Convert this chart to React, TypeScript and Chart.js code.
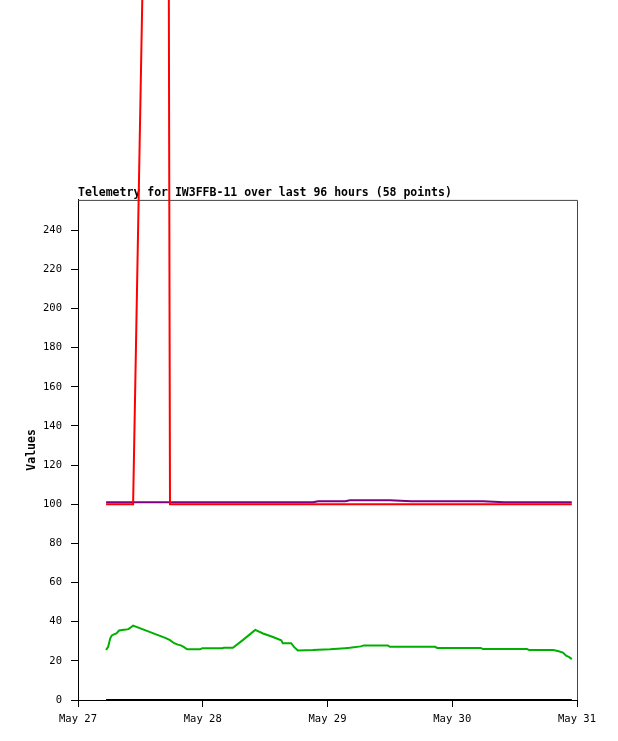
import React, { useEffect, useRef } from 'react';
import { Chart, registerables } from 'chart.js';

Chart.register(...registerables);

// hours since May 27 00:00
const hours = [
  5.4, 5.8, 6.2, 6.5, 6.9, 7.4, 7.9, 8.5, 9.2, 9.7, 10.2, 10.6, 16.9, 17.7, 18.5, 19.2,
  19.8, 20.4, 21.0, 23.5, 23.9, 27.7, 28.1, 29.8, 31.7, 34.1, 35.6, 37.5, 39.1, 39.4,
  41.0, 41.6, 42.3, 45.2, 46.2, 48.5, 51.4, 52.3, 54.4, 55.0, 59.6, 60.0, 64.1, 68.7,
  69.1, 73.5, 77.5, 77.9, 82.0, 86.4, 86.8, 88.9, 91.4, 92.3, 93.3, 93.9, 94.5, 95.0,
];

const redValues = [
  100, 100, 100, 100, 100, 100, 100, 100, 100, 100, 100, 100, 1020, 100, 100, 100,
  100, 100, 100, 100, 100, 100, 100, 100, 100, 100, 100, 100, 100, 100,
  100, 100, 100, 100, 100, 100, 100, 100, 100, 100, 100, 100, 100, 100,
  100, 100, 100, 100, 100, 100, 100, 100, 100, 100, 100, 100, 100, 100,
];

const purpleValues = [
  101, 101, 101, 101, 101, 101, 101, 101, 101, 101, 101, 101, 101, 101, 101, 101,
  101, 101, 101, 101, 101, 101, 101, 101, 101, 101, 101, 101, 101, 101,
  101, 101, 101, 101, 101.5, 101.5, 101.5, 102, 102, 102, 102, 102, 101.5, 101.5,
  101.5, 101.5, 101.5, 101.5, 101, 101, 101, 101, 101, 101, 101, 101, 101, 101,
];

const greenValues = [
  25.5, 27.2, 31.5, 33.0, 33.5, 34.0, 35.5, 35.8, 36.0, 36.2, 37.2, 38.0, 31.6, 30.6, 29.0, 28.3,
  27.9, 27.0, 25.9, 25.9, 26.5, 26.5, 26.7, 26.7, 30.6, 35.8, 34.0, 32.2, 30.5, 29.0,
  29.0, 27.0, 25.3, 25.5, 25.7, 25.9, 26.5, 26.7, 27.4, 27.9, 27.9, 27.2, 27.2, 27.2,
  26.6, 26.6, 26.6, 26.0, 26.0, 26.0, 25.5, 25.5, 25.5, 25.0, 24.2, 22.6, 21.9, 20.9,
];

const blackValues = [
  0, 0, 0, 0, 0, 0, 0, 0, 0, 0, 0, 0, 0, 0, 0, 0,
  0, 0, 0, 0, 0, 0, 0, 0, 0, 0, 0, 0, 0, 0,
  0, 0, 0, 0, 0, 0, 0, 0, 0, 0, 0, 0, 0, 0,
  0, 0, 0, 0, 0, 0, 0, 0, 0, 0, 0, 0, 0, 0,
];

const dayLabels = ['May 27', 'May 28', 'May 29', 'May 30', 'May 31'];
const yTickStep = 20;

const MONO = '"DejaVu Sans Mono", monospace';

const toPoints = (vals: number[]) => hours.map((h, i) => ({ x: h, y: vals[i] }));

// gray top/right frame of the plot area
const framePlugin = {
  id: 'frame',
  beforeDatasetsDraw(chart: any) {
    const { ctx, chartArea } = chart;
    ctx.save();
    ctx.strokeStyle = '#444';
    ctx.lineWidth = 1;
    ctx.beginPath();
    ctx.moveTo(chartArea.left, chartArea.top + 0.5);
    ctx.lineTo(chartArea.right + 0.5, chartArea.top + 0.5);
    ctx.lineTo(chartArea.right + 0.5, chartArea.bottom);
    ctx.stroke();
    ctx.restore();
  },
};

const App: React.FC = () => {
  const canvasRef = useRef<HTMLCanvasElement>(null);

  useEffect(() => {
    if (!canvasRef.current) return;
    const line = (label: string, vals: number[], color: string, clip: any = undefined) => ({
      label,
      data: toPoints(vals),
      borderColor: color,
      backgroundColor: color,
      borderWidth: 2,
      pointRadius: 0,
      tension: 0,
      fill: false,
      clip,
    });

    const chart = new Chart(canvasRef.current, {
      type: 'line',
      data: {
        datasets: [
          line('red', redValues, '#ff0000', false),
          line('purple', purpleValues, '#800080'),
          line('green', greenValues, '#00b000'),
          line('black', blackValues, '#000000'),
        ],
      },
      options: {
        animation: false,
        responsive: true,
        maintainAspectRatio: false,
        layout: { padding: { top: 186.1, right: 41, bottom: 0, left: 0 } },
        plugins: {
          legend: { display: false },
          tooltip: { enabled: false },
          title: {
            display: true,
            text: 'Telemetry for IW3FFB-11 over last 96 hours (58 points)',
            align: 'start',
            fullSize: false,
            color: '#000',
            font: { family: MONO, size: 11.5, weight: 'bold' },
            padding: { top: 0, bottom: 0 },
          },
        },
        scales: {
          x: {
            type: 'linear',
            min: 0,
            max: 96,
            afterFit: (s: any) => {
              s.height = 41;
            },
            ticks: {
              stepSize: 24,
              autoSkip: false,
              maxRotation: 0,
              color: '#000',
              padding: 6,
              font: { family: MONO, size: 10.5 },
              callback: (v: any) => dayLabels[Math.round(Number(v) / 24)] ?? '',
            },
            grid: { drawOnChartArea: false, drawTicks: true, tickLength: 7, color: '#000' },
            border: { display: true, color: '#000', width: 1 },
          },
          y: {
            type: 'linear',
            min: 0,
            max: 255.5,
            afterFit: (s: any) => {
              s.width = 78;
            },
            ticks: {
              stepSize: yTickStep,
              includeBounds: false,
              color: '#000',
              padding: 9,
              font: { family: MONO, size: 10.5 },
            },
            grid: { drawOnChartArea: false, drawTicks: true, tickLength: 7, color: '#000' },
            border: { display: true, color: '#000', width: 1 },
            title: {
              display: true,
              text: 'Values',
              color: '#000',
              font: { family: MONO, size: 11.5, weight: 'bold' },
              padding: { top: 25, bottom: 0 },
            },
          },
        },
      },
      plugins: [framePlugin],
    });

    return () => {
      chart.destroy();
    };
  }, []);

  return (
    <div style={{ position: 'absolute', top: 0, left: 0, width: 618, height: 741, background: '#fff' }}>
      <canvas ref={canvasRef}></canvas>
    </div>
  );
};

export default App;
